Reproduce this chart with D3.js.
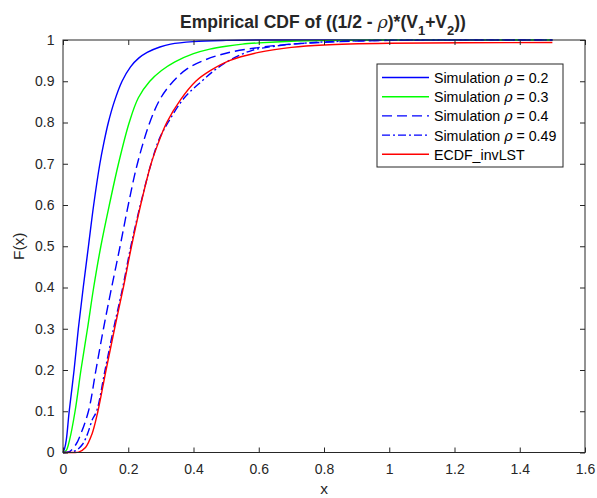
<!DOCTYPE html>
<html>
<head>
<meta charset="utf-8">
<script src="https://cdn.jsdelivr.net/npm/d3@7"></script>
<style>
  body { margin: 0; background: #fff; }
  text { font-family: "Liberation Sans", Arial, sans-serif; fill: #262626; }
</style>
</head>
<body>
<div id="chart"></div>
<script>
// series: [x, F(x)]
const rho02 = [[0,0],[0.005,0.01],[0.01,0.03],[0.019,0.1],[0.034,0.2],[0.047,0.3],[0.062,0.4],[0.078,0.5],[0.094,0.6],[0.113,0.7],[0.125,0.75],[0.139,0.8],[0.157,0.85],[0.181,0.9],[0.207,0.935],[0.232,0.956],[0.258,0.97],[0.297,0.983],[0.33,0.99],[0.4,0.996],[0.5,0.999],[0.6,1],[1.0,1],[1.5,1]];
const rho03 = [[0,0],[0.01,0.005],[0.02,0.03],[0.037,0.1],[0.055,0.2],[0.075,0.3],[0.094,0.4],[0.116,0.5],[0.142,0.6],[0.17,0.7],[0.203,0.8],[0.231,0.86],[0.266,0.9],[0.302,0.926],[0.343,0.947],[0.4,0.967],[0.45,0.978],[0.5,0.985],[0.55,0.99],[0.6,0.993],[0.7,0.997],[0.8,0.9986],[1.0,1],[1.5,1]];
const rho04 = [[0,0],[0.02,0.002],[0.04,0.02],[0.052,0.04],[0.078,0.1],[0.101,0.2],[0.124,0.3],[0.149,0.4],[0.175,0.5],[0.2,0.6],[0.228,0.7],[0.266,0.8],[0.3,0.86],[0.338,0.9],[0.38,0.93],[0.43,0.95],[0.5,0.968],[0.593,0.981],[0.7,0.99],[0.85,0.996],[1.0,0.999],[1.5,1]];
const rho049 = [[0,0],[0.02,0.001],[0.04,0.005],[0.06,0.02],[0.075,0.045],[0.09,0.08],[0.103,0.1],[0.129,0.2],[0.155,0.3],[0.183,0.4],[0.208,0.5],[0.237,0.6],[0.27,0.7],[0.295,0.76],[0.322,0.8],[0.372,0.86],[0.425,0.9],[0.47,0.93],[0.52,0.955],[0.58,0.975],[0.65,0.985],[0.75,0.993],[0.9,0.998],[1.1,1],[1.5,1]];
const ecdfInv = [[0,0],[0.03,0],[0.048,0.001],[0.069,0.012],[0.089,0.045],[0.107,0.1],[0.132,0.2],[0.158,0.3],[0.185,0.4],[0.21,0.5],[0.238,0.6],[0.27,0.7],[0.292,0.75],[0.318,0.8],[0.36,0.855],[0.407,0.9],[0.45,0.925],[0.51,0.95],[0.6,0.97],[0.7,0.982],[0.8,0.988],[1.0,0.992],[1.5,0.994]];

const xTicks = [0, 0.2, 0.4, 0.6, 0.8, 1, 1.2, 1.4, 1.6];
const yTicks = [0, 0.1, 0.2, 0.3, 0.4, 0.5, 0.6, 0.7, 0.8, 0.9, 1];

const series = [
  {name: "Simulation ", rho: "0.2", data: rho02, color: "#0000ff", dash: null},
  {name: "Simulation ", rho: "0.3", data: rho03, color: "#00ff00", dash: null},
  {name: "Simulation ", rho: "0.4", data: rho04, color: "#0000ff", dash: "10,5"},
  {name: "Simulation ", rho: "0.49", data: rho049, color: "#0000ff", dash: "8,3,2,3"},
  {name: "ECDF_invLST", rho: null, data: ecdfInv, color: "#ff0000", dash: null}
];

const WIDTH = 597, HEIGHT = 498;
const MARGINS = {left: 63, right: 12, top: 40, bottom: 45.5};
const VIS_W = WIDTH - MARGINS.left - MARGINS.right;
const VIS_H = HEIGHT - MARGINS.top - MARGINS.bottom;

const xScale = d3.scaleLinear().domain([0, 1.6]).range([0, VIS_W]);
const yScale = d3.scaleLinear().domain([0, 1]).range([VIS_H, 0]);

const svg = d3.select("#chart").append("svg")
  .attr("width", WIDTH).attr("height", HEIGHT);

const g = svg.append("g")
  .attr("transform", "translate(" + MARGINS.left + "," + MARGINS.top + ")");

// lines
const line = d3.line()
  .x(d => xScale(d[0]))
  .y(d => yScale(d[1]))
  .curve(d3.curveCatmullRom.alpha(0.5));

series.forEach(s => {
  g.append("path")
    .datum(s.data)
    .attr("d", line)
    .attr("fill", "none")
    .attr("stroke", s.color)
    .attr("stroke-width", 1.4)
    .attr("stroke-dasharray", s.dash);
});

// axes, MATLAB style with inward ticks on all sides
function styleAxis(sel) {
  sel.select(".domain").remove();
  sel.selectAll("line").attr("stroke", "#262626");
  sel.selectAll("text").attr("font-size", "14px").style("fill", "#262626");
}

g.append("g")
  .attr("transform", "translate(0," + VIS_H + ")")
  .call(d3.axisBottom(xScale).tickValues(xTicks).tickSize(-5).tickPadding(11.5).tickFormat(d3.format("")))
  .call(styleAxis);
g.append("g")
  .call(d3.axisTop(xScale).tickValues(xTicks).tickSize(-5).tickFormat(""))
  .call(styleAxis);
g.append("g")
  .call(d3.axisLeft(yScale).tickValues(yTicks).tickSize(-5).tickPadding(8.5).tickFormat(d3.format("")))
  .call(styleAxis);
g.append("g")
  .attr("transform", "translate(" + VIS_W + ",0)")
  .call(d3.axisRight(yScale).tickValues(yTicks).tickSize(-5).tickFormat(""))
  .call(styleAxis);

g.append("rect")
  .attr("width", VIS_W).attr("height", VIS_H)
  .attr("fill", "none").attr("stroke", "#262626").attr("stroke-width", 1);

// labels
svg.append("text")
  .attr("x", MARGINS.left + VIS_W / 2).attr("y", 494)
  .attr("text-anchor", "middle").attr("font-size", "15.5px").text("x");

svg.append("text")
  .attr("transform", "translate(24," + (MARGINS.top + VIS_H / 2) + ") rotate(-90)")
  .attr("text-anchor", "middle").attr("font-size", "15.5px").text("F(x)");

const title = svg.append("text")
  .attr("x", MARGINS.left + VIS_W / 2 - 1).attr("y", 28)
  .attr("text-anchor", "middle").attr("font-size", "17.5px").attr("font-weight", "bold");
title.append("tspan").text("Empirical CDF of ((1/2 - ");
title.append("tspan").attr("font-style", "italic").attr("font-weight", "normal").attr("font-family", "'DejaVu Serif', serif").text("\u03c1");
title.append("tspan").text(")*(V");
title.append("tspan").attr("dy", 7).attr("font-size", "13px").text("1");
title.append("tspan").attr("dy", -7).text("+V");
title.append("tspan").attr("dy", 7).attr("font-size", "13px").text("2");
title.append("tspan").attr("dy", -7).text("))");

// legend
const LEG = {x: 377, y: 64, w: 186, h: 103, row: 19.2};
const legend = svg.append("g");
legend.append("rect")
  .attr("x", LEG.x).attr("y", LEG.y).attr("width", LEG.w).attr("height", LEG.h)
  .attr("fill", "#fff").attr("stroke", "#262626").attr("stroke-width", 1);

series.forEach((s, i) => {
  const cy = LEG.y + 13.5 + i * LEG.row;
  legend.append("line")
    .attr("x1", LEG.x + 5).attr("x2", LEG.x + 52)
    .attr("y1", cy).attr("y2", cy)
    .attr("stroke", s.color).attr("stroke-width", 1.4)
    .attr("stroke-dasharray", s.dash);
  const t = legend.append("text")
    .attr("x", LEG.x + 57).attr("y", cy + 5.5)
    .attr("font-size", "14.2px").style("fill", "#000");
  t.append("tspan").text(s.name);
  if (s.rho) {
    t.append("tspan").attr("font-style", "italic").attr("font-family", "'DejaVu Serif', serif").text("\u03c1");
    t.append("tspan").text(" = " + s.rho);
  }
});
</script>
</body>
</html>
